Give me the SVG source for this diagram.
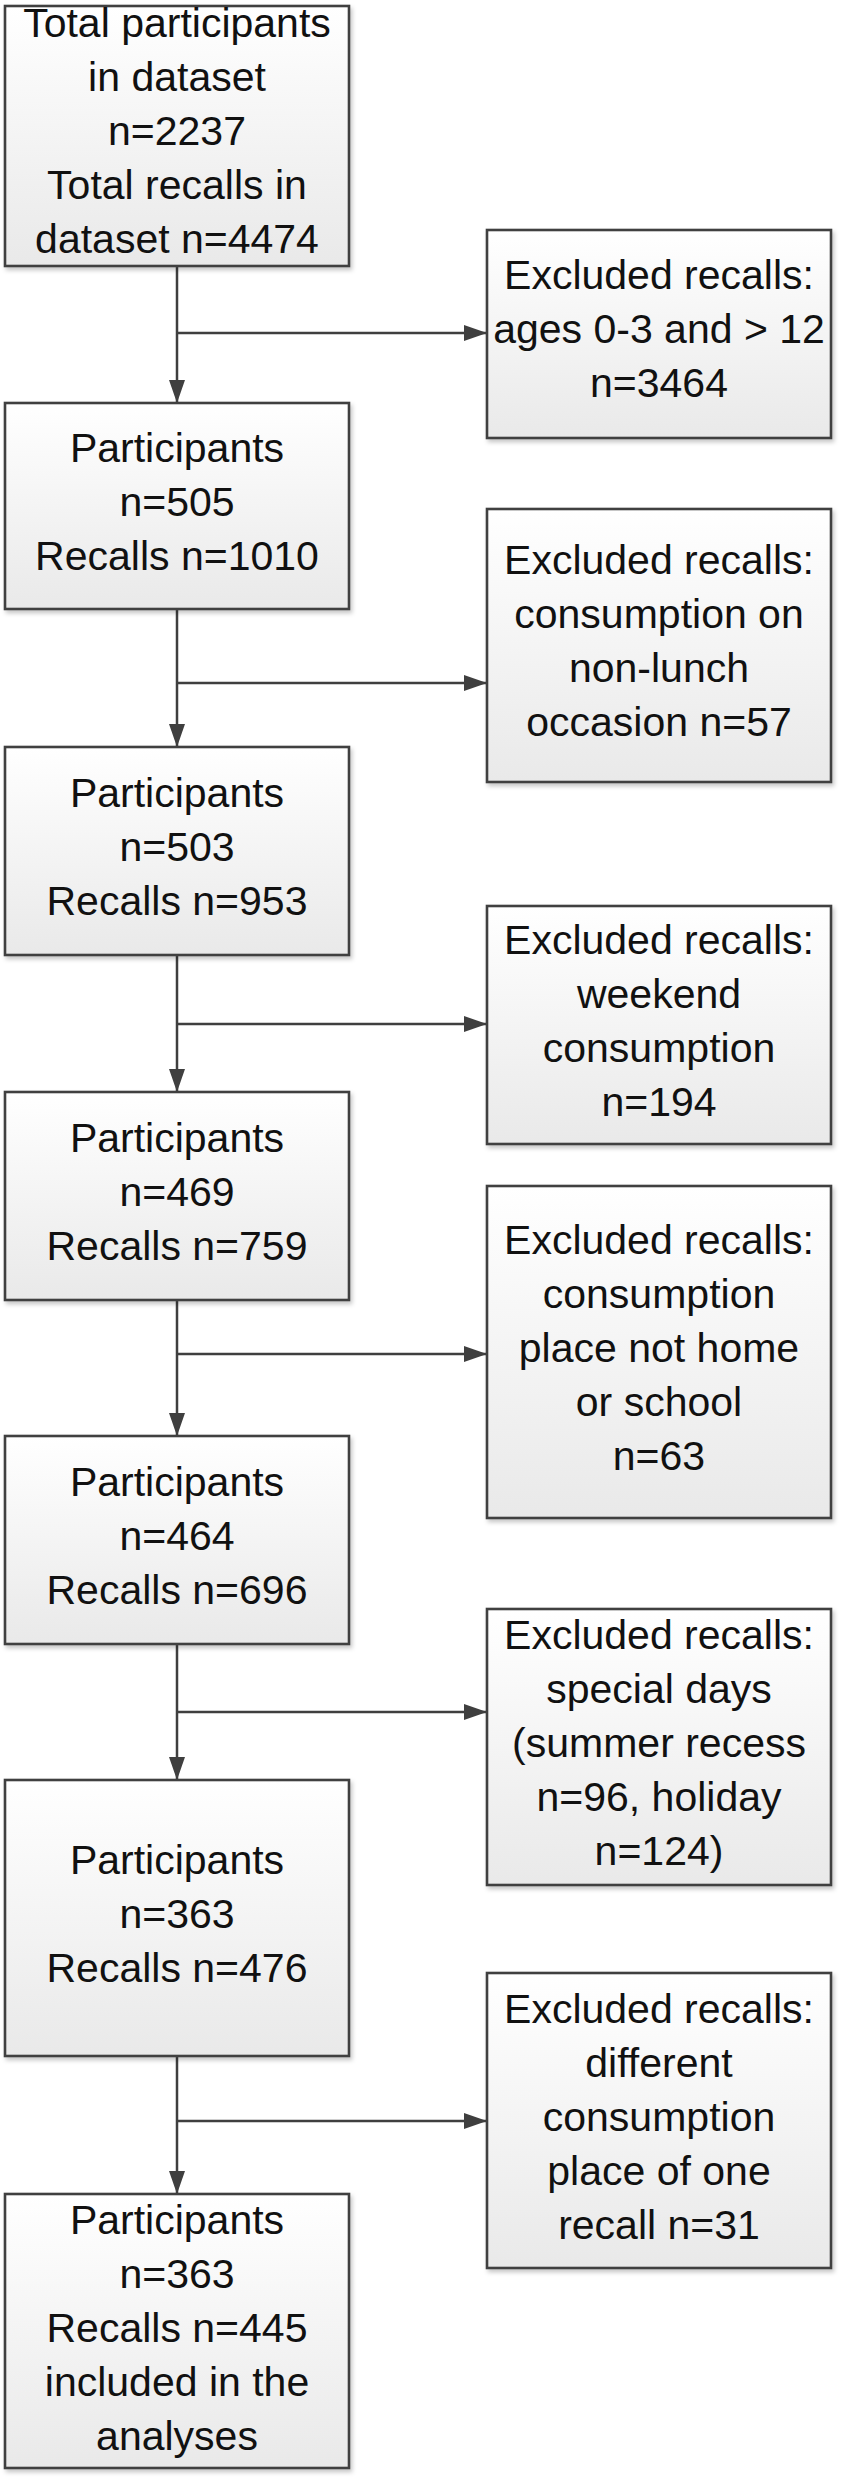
<svg xmlns="http://www.w3.org/2000/svg" width="841" height="2481" viewBox="0 0 841 2481">
<defs>
<linearGradient id="g" x1="0" y1="0" x2="0" y2="1">
<stop offset="0" stop-color="#ffffff"/>
<stop offset="1" stop-color="#e9e9e9"/>
</linearGradient>
<filter id="sh" x="-5%" y="-5%" width="115%" height="115%">
<feDropShadow dx="2" dy="3" stdDeviation="2" flood-color="#000" flood-opacity="0.22"/>
</filter>
<marker id="ah" markerUnits="userSpaceOnUse" markerWidth="24" markerHeight="16" refX="23" refY="8" orient="auto">
<path d="M0,0 L23,8 L0,16 z" fill="#3f3f3f"/>
</marker>
<style>
.box{fill:url(#g);stroke:#404040;stroke-width:2.6;filter:url(#sh)}
.t{font-family:"Liberation Sans",Arial,sans-serif;font-size:41px;fill:#111;text-anchor:middle}
.c{fill:none;stroke:#3f3f3f;stroke-width:2.5}
</style>
</defs>
<rect width="841" height="2481" fill="#fff"/>

<g id="connectors">
<path class="c" d="M177,266 V403" marker-end="url(#ah)"/>
<path class="c" d="M177,333 H487" marker-end="url(#ah)"/>
<path class="c" d="M177,609 V747" marker-end="url(#ah)"/>
<path class="c" d="M177,683 H487" marker-end="url(#ah)"/>
<path class="c" d="M177,955 V1092" marker-end="url(#ah)"/>
<path class="c" d="M177,1024 H487" marker-end="url(#ah)"/>
<path class="c" d="M177,1300 V1436" marker-end="url(#ah)"/>
<path class="c" d="M177,1354 H487" marker-end="url(#ah)"/>
<path class="c" d="M177,1644 V1780" marker-end="url(#ah)"/>
<path class="c" d="M177,1712 H487" marker-end="url(#ah)"/>
<path class="c" d="M177,2056 V2194" marker-end="url(#ah)"/>
<path class="c" d="M177,2121 H487" marker-end="url(#ah)"/>
</g>

<g id="box1">
<rect class="box" x="5" y="6" width="344" height="260"/>
<text class="t" x="177" y="37">Total participants</text>
<text class="t" x="177" y="91">in dataset</text>
<text class="t" x="177" y="145">n=2237</text>
<text class="t" x="177" y="199">Total recalls in</text>
<text class="t" x="177" y="253">dataset n=4474</text>
</g>

<g id="excl1">
<rect class="box" x="487" y="230" width="344" height="208"/>
<text class="t" x="659" y="289">Excluded recalls:</text>
<text class="t" x="659" y="343">ages 0-3 and &gt; 12</text>
<text class="t" x="659" y="397">n=3464</text>
</g>

<g id="box2">
<rect class="box" x="5" y="403" width="344" height="206"/>
<text class="t" x="177" y="462">Participants</text>
<text class="t" x="177" y="516">n=505</text>
<text class="t" x="177" y="570">Recalls n=1010</text>
</g>

<g id="excl2">
<rect class="box" x="487" y="509" width="344" height="273"/>
<text class="t" x="659" y="574">Excluded recalls:</text>
<text class="t" x="659" y="628">consumption on</text>
<text class="t" x="659" y="682">non-lunch</text>
<text class="t" x="659" y="736">occasion n=57</text>
</g>

<g id="box3">
<rect class="box" x="5" y="747" width="344" height="208"/>
<text class="t" x="177" y="807">Participants</text>
<text class="t" x="177" y="861">n=503</text>
<text class="t" x="177" y="915">Recalls n=953</text>
</g>

<g id="excl3">
<rect class="box" x="487" y="906" width="344" height="238"/>
<text class="t" x="659" y="954">Excluded recalls:</text>
<text class="t" x="659" y="1008">weekend</text>
<text class="t" x="659" y="1062">consumption</text>
<text class="t" x="659" y="1116">n=194</text>
</g>

<g id="box4">
<rect class="box" x="5" y="1092" width="344" height="208"/>
<text class="t" x="177" y="1152">Participants</text>
<text class="t" x="177" y="1206">n=469</text>
<text class="t" x="177" y="1260">Recalls n=759</text>
</g>

<g id="excl4">
<rect class="box" x="487" y="1186" width="344" height="332"/>
<text class="t" x="659" y="1254">Excluded recalls:</text>
<text class="t" x="659" y="1308">consumption</text>
<text class="t" x="659" y="1362">place not home</text>
<text class="t" x="659" y="1416">or school</text>
<text class="t" x="659" y="1470">n=63</text>
</g>

<g id="box5">
<rect class="box" x="5" y="1436" width="344" height="208"/>
<text class="t" x="177" y="1496">Participants</text>
<text class="t" x="177" y="1550">n=464</text>
<text class="t" x="177" y="1604">Recalls n=696</text>
</g>

<g id="excl5">
<rect class="box" x="487" y="1609" width="344" height="276"/>
<text class="t" x="659" y="1649">Excluded recalls:</text>
<text class="t" x="659" y="1703">special days</text>
<text class="t" x="659" y="1757">(summer recess</text>
<text class="t" x="659" y="1811">n=96, holiday</text>
<text class="t" x="659" y="1865">n=124)</text>
</g>

<g id="box6">
<rect class="box" x="5" y="1780" width="344" height="276"/>
<text class="t" x="177" y="1874">Participants</text>
<text class="t" x="177" y="1928">n=363</text>
<text class="t" x="177" y="1982">Recalls n=476</text>
</g>

<g id="excl6">
<rect class="box" x="487" y="1973" width="344" height="295"/>
<text class="t" x="659" y="2023">Excluded recalls:</text>
<text class="t" x="659" y="2077">different</text>
<text class="t" x="659" y="2131">consumption</text>
<text class="t" x="659" y="2185">place of one</text>
<text class="t" x="659" y="2239">recall n=31</text>
</g>

<g id="box7">
<rect class="box" x="5" y="2194" width="344" height="274"/>
<text class="t" x="177" y="2234">Participants</text>
<text class="t" x="177" y="2288">n=363</text>
<text class="t" x="177" y="2342">Recalls n=445</text>
<text class="t" x="177" y="2396">included in the</text>
<text class="t" x="177" y="2450">analyses</text>
</g>
</svg>
